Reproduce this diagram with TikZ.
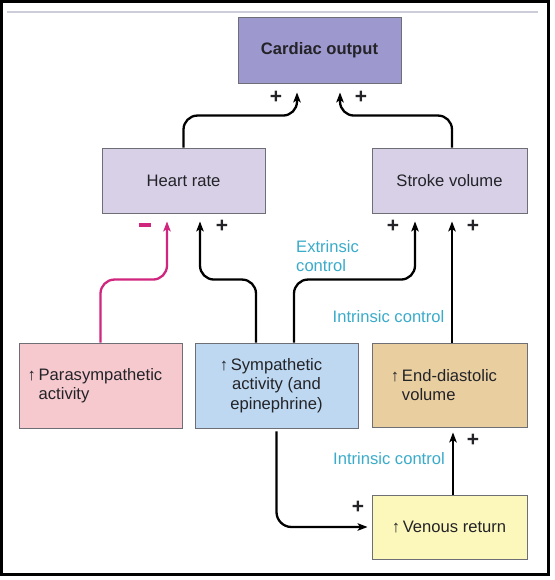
\documentclass[tikz,border=0pt]{standalone}
\usepackage{fontspec}
\setmainfont{Liberation Sans}
\usetikzlibrary{arrows.meta}
\definecolor{coC}{RGB}{157,152,205}
\definecolor{lavC}{RGB}{216,208,231}
\definecolor{pinkC}{RGB}{245,201,206}
\definecolor{blueC}{RGB}{189,216,240}
\definecolor{tanC}{RGB}{233,207,160}
\definecolor{yelC}{RGB}{252,248,187}
\definecolor{edgeC}{RGB}{110,110,118}
\definecolor{magC}{RGB}{208,38,126}
\definecolor{tealC}{RGB}{58,172,202}
\definecolor{txtC}{RGB}{35,35,40}
\definecolor{rulC}{RGB}{205,205,218}
\newcommand{\upar}{\llap{↑\,}}
\tikzset{
  box/.style={draw=edgeC, line width=0.9pt, inner sep=0pt, text=txtC, font=\fontsize{16.6}{19.5}\selectfont},
  arr/.style={line width=2.3pt, -{Stealth[length=10pt,width=7.5pt,inset=2.5pt]}, rounded corners=14pt, shorten >=8pt},
  sign/.style={font=\fontsize{21}{21}\selectfont\bfseries, inner sep=0pt, text=txtC},
  lbl/.style={text=tealC, font=\fontsize{16.6}{18.5}\selectfont, inner sep=0pt}
}
\begin{document}
\begin{tikzpicture}[x=1pt,y=-1pt]
\useasboundingbox (0,0) rectangle (554,580);
\fill[white] (0,0) rectangle (554,580);
\draw[line width=3pt] (1.8,1.8) rectangle (548.5,574.3);
\draw[line width=2pt, color=rulC] (7,12) -- (538,12);

\node[box, fill=coC, minimum width=163pt, minimum height=66pt, font=\fontsize{16.6}{19.5}\selectfont\bfseries] (co) at (319.5,50) {Cardiac output};
\node[box, fill=lavC, minimum width=163pt, minimum height=65pt] (hr) at (183.5,180.5) {Heart rate};
\node[box, fill=lavC, minimum width=155pt, minimum height=65pt] (sv) at (449.5,180.5) {Stroke volume};
\node[box, fill=pinkC, minimum width=163pt, minimum height=85pt, align=left] (ps) at (100.5,385.5) {\upar Parasympathetic\\activity};
\node[box, fill=blueC, minimum width=163pt, minimum height=85pt, align=center] (sy) at (276.5,385.5) {\upar Sympathetic\\activity (and\\epinephrine)};
\node[box, fill=tanC, minimum width=155pt, minimum height=84pt, align=left] (ed) at (449.5,385) {\upar End-diastolic\\volume};
\node[box, fill=yelC, minimum width=155pt, minimum height=64pt] (vr) at (449.5,527) {\hspace*{10pt}\upar Venous return};

% to cardiac output
\draw[arr, shorten >=9pt] (hr.north) -- ++(0,-32) -| ([xshift=-22.5pt]co.south);
\draw[arr, shorten >=9pt] ([xshift=2.5pt]sv.north) -- ++(0,-32) -| ([xshift=20.5pt]co.south);
\node[sign] (p1) at (276,97) {+};
\node[sign] (p2) at (361,97) {+};

% to heart rate / stroke volume
\draw[arr, color=magC] (ps.north) -- ++(0,-63) -| ([xshift=-16.5pt]hr.south);
\draw[arr] ([xshift=-20.5pt]sy.north) -- ++(0,-63) -| ([xshift=16.5pt]hr.south);
\draw[arr] ([xshift=17.5pt]sy.north) -- ++(0,-63) -| ([xshift=-34.5pt]sv.south);
\draw[arr] ([xshift=2.5pt]ed.north) -- ([xshift=2.5pt]sv.south);
\node[inner sep=0pt] (m1) at (145,225) {\textcolor{magC}{\rule{12pt}{3.2pt}}};
\node[sign] (p3) at (222,226) {+};
\node[sign] (p4) at (393,226) {+};
\node[sign] (p5) at (473,226) {+};

\node[lbl, align=left, anchor=west] (ext) at (296,256) {Extrinsic\\control};
\node[lbl] (int1) at (388.5,317) {Intrinsic control};

% lower
\draw[arr, rounded corners=15pt, shorten >=4pt] ([yshift=-3pt]sy.south) |- (vr.west);
\draw[arr, shorten >=5pt] ([xshift=3.5pt]vr.north) -- ([xshift=3.5pt]ed.south);
\node[sign] (p6) at (358,507) {+};
\node[sign] (p7) at (473,440) {+};
\node[lbl] (int2) at (389,459) {Intrinsic control};
\end{tikzpicture}
\end{document}
